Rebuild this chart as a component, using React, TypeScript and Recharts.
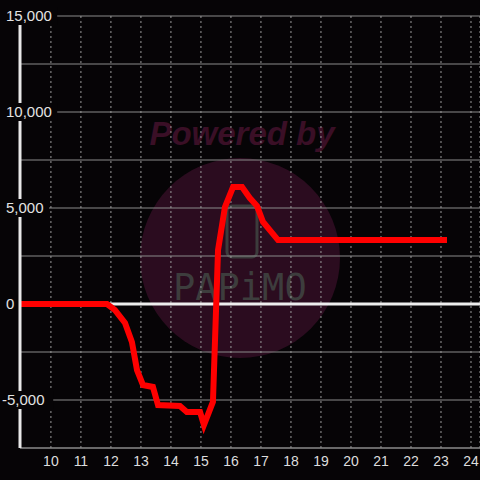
import { CartesianGrid, Line, LineChart, ReferenceLine, XAxis, YAxis } from "recharts"

// readings
const hours = [8.97, 11.87, 12.13, 12.47, 12.7, 12.87, 13.07, 13.4, 13.57, 14.3, 14.53, 14.97, 15.1, 15.4, 15.57, 15.8, 16.07, 16.37, 16.63, 16.87, 17.07, 17.57, 23.2]
const balance = [0, 0, -310, -990, -1980, -3440, -4220, -4320, -5260, -5310, -5620, -5620, -6300, -5100, 2810, 5050, 6090, 6090, 5520, 5100, 4270, 3330, 3330]

const xTicks = [10, 11, 12, 13, 14, 15, 16, 17, 18, 19, 20, 21, 22, 23, 24]
const yTicks = [-5000, -2500, 0, 2500, 5000, 7500, 10000, 12500, 15000]

const data = hours.map((x, i) => ({ x, value: balance[i] }))

const BG = "#060406"

const YTick = (props: any) => {
  const { y, payload } = props
  if (payload.value % 5000 !== 0) return <g />
  const label = payload.value.toLocaleString("en-US")
  const w = label.length * 8.2 + 3
  const x0 = payload.value < 0 ? 2 : 6
  return (
    <g>
      <rect x={x0 - 1} y={y - 9} width={w} height={18} fill={BG} />
      <text x={x0} y={y} dy={5} fill="#e2e2e2" fontSize={15} textAnchor="start">
        {label}
      </text>
    </g>
  )
}

export default function App() {
  return (
    <div style={{ position: "absolute", left: 0, top: 0, width: 480, height: 480, background: BG, fontFamily: "'Liberation Sans', Arial, sans-serif" }}>
      <svg width={480} height={480} style={{ position: "absolute", left: 0, top: 0 }}>
        <circle cx={240} cy={258} r={100} fill="#2b0c1f" />
        <text x={242} y={145} textAnchor="middle" fontSize={33} fontWeight="bold" fontStyle="italic" fill="#3a0f26">
          Powered by
        </text>
        <rect x={227} y={206} width={30} height={51} rx={5} fill="none" stroke="#3c3c3c" strokeWidth={3} />
        <text x={173} y={300} fontSize={37} fill="#3d3d3d" fontFamily="'DejaVu Sans Mono', monospace">
          PAPiMO
        </text>
      </svg>
      <LineChart
        width={480}
        height={480}
        data={data}
        margin={{ top: 16, right: 0, left: 0, bottom: 0 }}
        style={{ position: "absolute", left: 0, top: 0 }}
      >
        <CartesianGrid vertical={false} stroke="#8a8a8a" strokeWidth={1} />
        <CartesianGrid horizontal={false} stroke="#9a9a9a" strokeDasharray="2 3" />
        <ReferenceLine y={0} stroke="#eeeeee" strokeWidth={3} />
        <XAxis
          type="number"
          dataKey="x"
          domain={[8.97, 24.3]}
          ticks={xTicks}
          allowDataOverflow
          height={32}
          tickLine={false}
          axisLine={{ stroke: "#8a8a8a" }}
          tick={{ fill: "#dddddd", fontSize: 14 }}
          interval={0}
        />
        <YAxis
          type="number"
          domain={[-7500, 15000]}
          ticks={yTicks}
          width={20}
          tickLine={false}
          axisLine={{ stroke: "#e8e8e8", strokeWidth: 3 }}
          tick={<YTick />}
          interval={0}
        />
        <Line
          type="linear"
          dataKey="value"
          stroke="#ff0000"
          strokeWidth={6}
          dot={false}
          activeDot={false}
          isAnimationActive={false}
        />
      </LineChart>
    </div>
  )
}
